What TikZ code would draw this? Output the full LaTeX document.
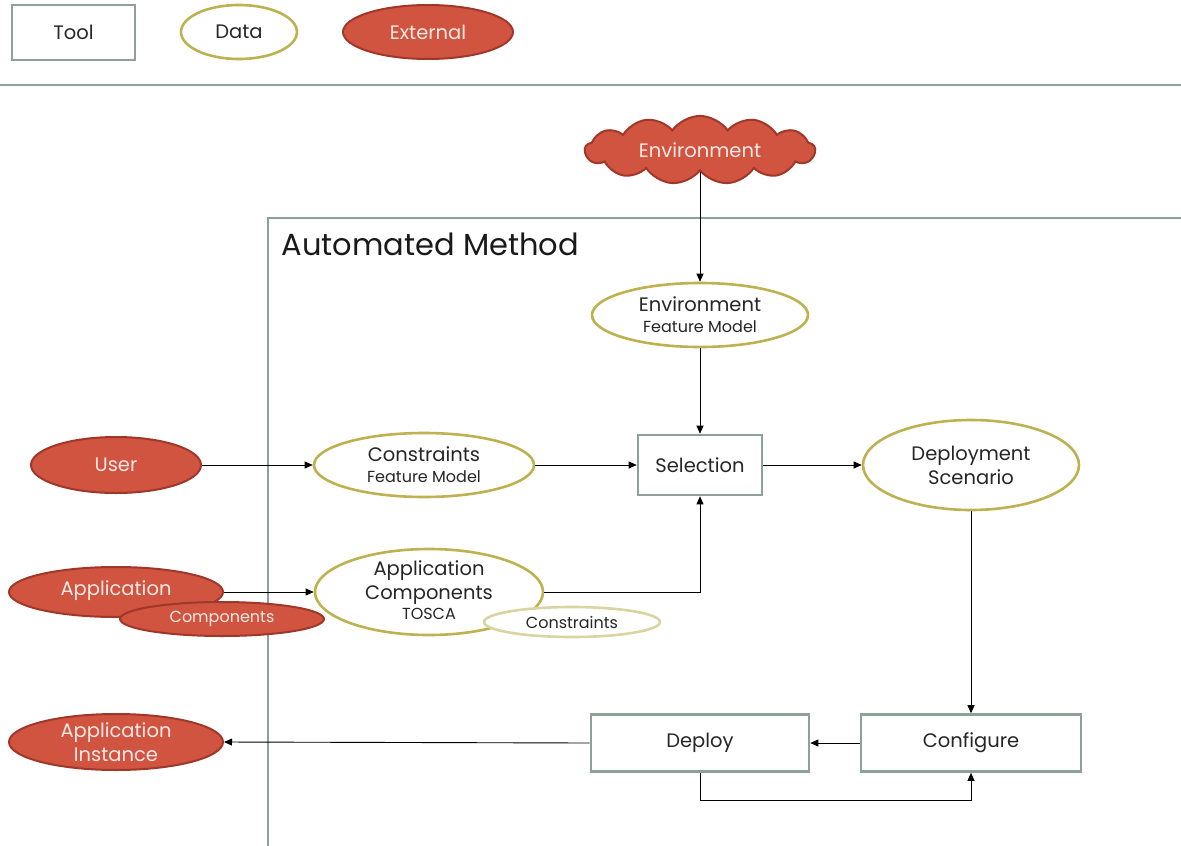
\documentclass[tikz,border=0pt]{standalone}
\usepackage{fontspec}
\setmainfont{Poppins}
\usetikzlibrary{shapes.geometric,shapes.symbols,arrows.meta}
\definecolor{toolgray}{RGB}{143,160,152}
\definecolor{dataolive}{RGB}{190,178,80}
\definecolor{datalight}{RGB}{218,212,160}
\definecolor{extfill}{RGB}{208,84,64}
\definecolor{extline}{RGB}{160,56,42}
\definecolor{exttext}{RGB}{252,232,228}
\newcommand{\bigtxt}{\fontsize{19.5}{24}\selectfont}
\newcommand{\smalltxt}{\fontsize{16}{20}\selectfont}
\tikzset{
  toolbox/.style={draw=toolgray, line width=2.6pt, fill=white, inner sep=0pt, font=\bigtxt, text=black!85},
  dataell/.style={ellipse, draw=dataolive, line width=2.6pt, fill=white, inner sep=0pt, align=center, text=black!85, font=\bigtxt},
  extell/.style={ellipse, draw=extline, line width=2pt, fill=extfill, inner sep=0pt, align=center, text=exttext, font=\bigtxt},
  flow/.style={-{Triangle[length=8pt,width=7pt]}, line width=0.9pt, black},
}
\begin{document}
\begin{tikzpicture}[x=1pt,y=-1pt]
\useasboundingbox (0,0) rectangle (1181,846);
% legend
\node[toolbox, minimum width=123pt, minimum height=55pt] (legtool) at (73.5,32.5) {Tool};
\node[dataell, minimum width=116pt, minimum height=54pt] (legdata) at (239,32) {Data};
\node[extell, minimum width=170pt, minimum height=54pt] (legext) at (428,32) {External};
\draw[toolgray, line width=2pt] (0,85) -- (1181,85);
% method frame
\draw[toolgray, line width=2.6pt] (268,846) -- (268,218) -- (1181,218);
\node[anchor=west, font=\fontsize{30.5}{34}\selectfont, text=black!90] (title) at (278,244) {Automated Method};
% external sources
\node[cloud, cloud puffs=13, cloud puff arc=110, aspect=3.6, draw=extline, line width=2pt, fill=extfill, text=exttext, font=\bigtxt, minimum width=230pt, minimum height=64pt, inner sep=0pt] (envcloud) at (700,150) {Environment};
\node[extell, minimum width=170pt, minimum height=56pt] (user) at (116,465) {User};
\node[extell, minimum width=214pt, minimum height=50pt] (app) at (116,592) {};
\node[extell, minimum width=204pt, minimum height=34pt, font=\smalltxt] (appcomp) at (222,619) {Components};
\node[font=\bigtxt, text=exttext] (applbl) at (116,591) {Application};
\node[extell, minimum width=214pt, minimum height=56pt] (inst) at (116,742) {Application\\Instance};
% data
\node[dataell, minimum width=216pt, minimum height=64pt] (envfm) at (700,315) {Environment\\[-3pt]{\smalltxt Feature Model}};
\node[dataell, minimum width=220pt, minimum height=64pt] (cons) at (424,465) {Constraints\\[-3pt]{\smalltxt Feature Model}};
\node[dataell, minimum width=216pt, minimum height=90pt] (scen) at (971,465) {Deployment\\Scenario};
\node[dataell, minimum width=228pt, minimum height=86pt] (acomp) at (429,592) {};
\node[align=center, font=\bigtxt, text=black!85] (acomplbl) at (429,590) {Application\\Components\\[-4pt]{\smalltxt TOSCA}};
\node[dataell, draw=datalight, minimum width=176pt, minimum height=30pt, font=\smalltxt] (acons) at (572,622) {Constraints};
% tools
\node[toolbox, minimum width=124pt, minimum height=60pt] (sel) at (700,465) {Selection};
\node[toolbox, minimum width=218pt, minimum height=57pt] (deploy) at (700,743) {Deploy};
\node[toolbox, minimum width=220pt, minimum height=57pt] (conf) at (971,743) {Configure};
% flows
\draw[flow] (envcloud.south) -- (envcloud.south |- envfm.north);
\draw[flow] (envfm.south) -- (sel.north);
\draw[flow] (user.east) -- (cons.west);
\draw[flow] (cons.east) -- (sel.west);
\draw[flow] (sel.east) -- (scen.west);
\draw[flow] (acomp.east) -| (sel.south);
\draw[flow] (app.east) -- (acomp.west);
\draw[flow] (scen.south) -- (conf.north);
\draw[flow] (conf.west) -- (deploy.east);
\draw[flow] (deploy.west) -- (inst.east);
\coordinate (loopA) at (700,800);
\draw[flow] (deploy.south) -- (loopA) -| (conf.south);
\end{tikzpicture}
\end{document}
